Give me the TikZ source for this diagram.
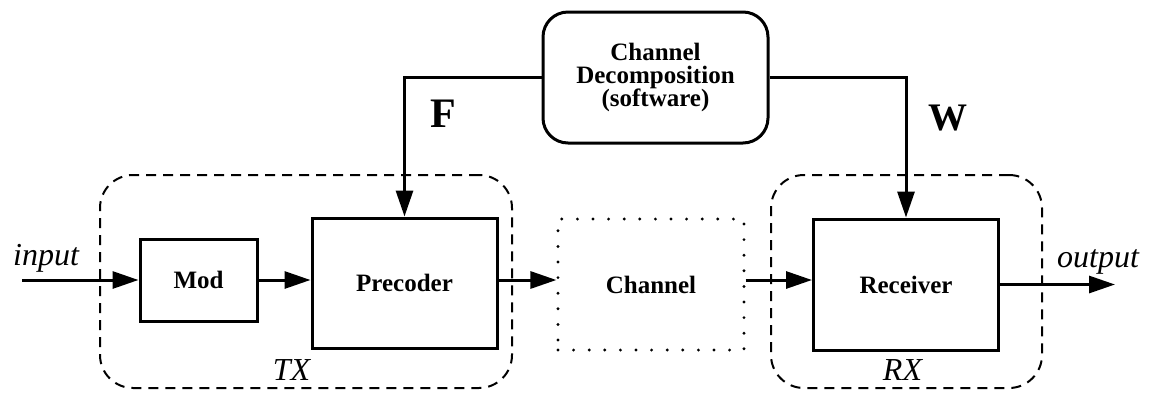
\documentclass[tikz,border=0pt]{standalone}
\usepackage{fontspec}
\setmainfont{Liberation Serif}
\usetikzlibrary{arrows.meta}
\tikzset{
  x=1pt, y=-1pt,
  blockbox/.style={draw, line width=3pt, inner sep=0pt, font=\bfseries\fontsize{25}{23}\selectfont, align=center},
  groupbox/.style={draw, line width=2pt, dash pattern=on 10pt off 7pt, rounded corners=33pt, inner sep=0pt},
  dotbox/.style={draw, line width=3.2pt, line cap=round, dash pattern=on 0pt off 15.6pt, inner sep=0pt, font=\bfseries\fontsize{25}{23}\selectfont},
  arr/.style={line width=3pt, -{Triangle[length=26pt,width=17pt]}},
  itl/.style={font=\itshape\fontsize{32}{32}\selectfont, inner sep=0pt, anchor=base},
}
\begin{document}
\begin{tikzpicture}
\useasboundingbox (0,0) rectangle (1152,392);
% group boxes
\node[groupbox, minimum width=412pt, minimum height=213pt] (tx) at (306,281.5) {};
\node[groupbox, minimum width=271pt, minimum height=213pt] (rx) at (906.5,281.5) {};
% blocks
\node[blockbox, minimum width=117pt, minimum height=82pt] (mod) at (198.5,280) {Mod};
\node[blockbox, minimum width=185pt, minimum height=130pt] (pre) at (404.5,283) {Precoder};
\node[dotbox, minimum width=186pt, minimum height=131pt] (ch) at (651,284.5) {Channel};
\node[blockbox, rounded corners=25pt, minimum width=225pt, minimum height=131pt] (dec) at (655.5,77.5) {Channel\\Decomposition\\(software)};
\node[blockbox, minimum width=185pt, minimum height=131pt] (rec) at (906,284.5) {Receiver};
% labels
\node[itl] (inlbl) at (46,265) {input};
\node[itl] (outlbl) at (1098,267) {output};
\node[itl] (txlbl) at (291.5,380) {TX};
\node[itl] (rxlbl) at (902.5,380) {RX};
\node[font=\bfseries\fontsize{42}{42}\selectfont, inner sep=0pt] (F) at (443,114) {F};
\node[font=\bfseries\fontsize{39}{39}\selectfont, inner sep=0pt] (W) at (948,118) {W};
% connectors
\coordinate (inp) at (22,280);
\coordinate (outp) at (1115,284.5);
\draw[arr] (inp) -- (mod.west);
\draw[arr] (mod.east) -- (mod.east -| pre.west);
\draw[arr] (pre.east |- 0,280) -- (ch.west |- 0,280);
\draw[arr] (ch.east |- 0,280) -- (rec.west |- 0,280);
\draw[arr] (rec.east) -- (outp);
\draw[arr] (dec.west) -| (pre.north);
\draw[arr] (dec.east) -| (rec.north);
\end{tikzpicture}
\end{document}
